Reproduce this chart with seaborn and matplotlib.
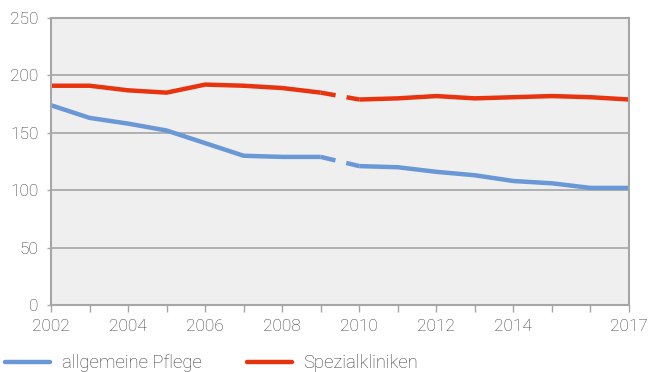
import matplotlib
matplotlib.use("Agg")
import matplotlib.pyplot as plt
import seaborn as sns
import pandas as pd
from matplotlib.lines import Line2D

years = list(range(2002, 2018))
allgemeine = [174, 163, 158, 152, 141, 130, 129, 129, 121, 120, 116, 113, 108, 106, 102, 102]
spezial = [191, 191, 187, 185, 192, 191, 189, 185, 179, 180, 182, 180, 181, 182, 181, 179]
series_names = ["allgemeine Pflege", "Spezialkliniken"]
colors = ["#6A97D5", "#E8330F"]
xtick_labels = {2002: "2002", 2004: "2004", 2006: "2006", 2008: "2008",
                2010: "2010", 2012: "2012", 2014: "2014", 2017: "2017"}
break_after = 2009

sns.set_theme(style="white")
plt.rcParams["font.family"] = ["Roboto", "DejaVu Sans"]

fig = plt.figure(figsize=(6.49, 3.72), dpi=100)
ax = fig.add_axes([51/649, 1 - 305/372, (629-51)/649, (305-18)/372])
ax.set_facecolor("#EFEFEF")

df = pd.DataFrame({"year": years * 2,
                   "value": allgemeine + spezial,
                   "series": [series_names[0]] * len(years) + [series_names[1]] * len(years)})
df["part"] = (df["year"] > break_after).astype(int)

lw = 3.2
for name, col in zip(series_names, colors):
    sub = df[df["series"] == name]
    for p in (0, 1):
        sns.lineplot(data=sub[sub["part"] == p], x="year", y="value", color=col,
                     linewidth=lw, ax=ax, legend=False, solid_capstyle="butt")
    # connecting segment across the break, drawn with a gap
    seg = sub[sub["year"].isin([break_after, break_after + 1])]
    ax.plot(seg["year"], seg["value"], color=col, linewidth=lw,
            linestyle=(0, (3.4, 2.5, 6)), solid_capstyle="butt", dash_capstyle="butt")

ax.set_xlim(2002, 2017)
ax.set_ylim(0, 250)
ax.set_yticks(range(0, 251, 50))
ax.set_xticks(years)
ax.set_xticklabels([xtick_labels.get(y, "") for y in years])
ax.set_xlabel("")
ax.set_ylabel("")
ax.grid(axis="y", color="#ABABAB", linewidth=1.3)
ax.set_axisbelow(True)
for s in ax.spines.values():
    s.set_color("#A6A6A6")
    s.set_linewidth(1.5)
ax.tick_params(axis="x", length=5, width=1, color="#A6A6A6", direction="out",
               labelsize=12.5, labelcolor="#383838", pad=5)
ax.tick_params(axis="y", length=3, width=1, color="#A6A6A6", direction="out",
               labelsize=12.5, labelcolor="#383838", pad=6)
ax.tick_params(bottom=True, left=True)
for t in ax.get_xticklabels() + ax.get_yticklabels():
    t.set_fontweight("light")

handles = [Line2D([0], [0], color=c, linewidth=lw) for c in colors]
leg = fig.legend(handles, series_names, loc="center left",
                 bbox_to_anchor=(5/649, 1 - 363/372), borderaxespad=0, borderpad=0,
                 ncol=2, frameon=False, fontsize=13.3, handlelength=2.43,
                 handletextpad=0.65, columnspacing=2.43)
for t in leg.get_texts():
    t.set_color("#383838")
    t.set_fontweight("light")

fig.savefig("out.png", dpi=100)
